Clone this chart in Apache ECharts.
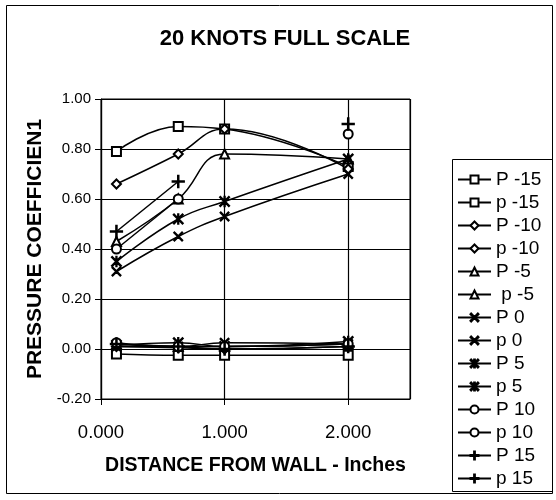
<!DOCTYPE html>
<html>
<head>
<meta charset="utf-8">
<title>20 KNOTS FULL SCALE</title>
<script src="https://cdn.jsdelivr.net/npm/echarts@6.0.0/dist/echarts.min.js"></script>
<style>
    html, body {margin: 0; padding: 0; background: #fff;}
    #main {width: 556px; height: 500px;}
</style>
</head>
<body>
<div id="main"></div>
<script>
// distance from wall (inches) where the taps are
const xDist = [0.125, 0.625, 1.0, 2.0];

const yTicks = [-0.2, 0, 0.2, 0.4, 0.6, 0.8, 1.0];
const xTicks = [0, 1, 2];

const names = ['P -15', 'p -15', 'P -10', 'p -10', 'P -5', ' p -5', 'P 0',
    'p 0', 'P 5', 'p 5', 'P 10', 'p 10', 'P 15', 'p 15'];

const P_m15 = [0.79, 0.89, 0.88, 0.73];
const p_m15 = [-0.02, -0.025, -0.025, -0.025];
const P_m10 = [0.66, 0.78, 0.88, 0.72];
const p_m10 = [0.01, 0.005, 0.0, 0.01];
const P_m5 = [0.43, 0.60, 0.78, 0.76];
const p_m5 = [0.02, 0.01, 0.01, 0.02];
const P_0 = [0.31, 0.45, 0.53, 0.70];
const p_0 = [0.01, 0.01, 0.025, 0.02];
const P_5 = [0.35, 0.52, 0.59, 0.76];
const p_5 = [0.015, 0.025, 0.01, 0.03];
const P_10 = [0.40, 0.60, null, 0.86];
const p_10 = [0.025, 0.01, 0.01, 0.02];
const P_15 = [0.47, 0.67, null, 0.90];
const p_15 = [0.02, 0.01, 0.0, 0.01];

const values = [P_m15, p_m15, P_m10, p_m10, P_m5, p_m5, P_0,
    p_0, P_5, p_5, P_10, p_10, P_15, p_15];

// marker shapes, one per pair
const xMark = 'path://M1.6,0L10,8.4L18.4,0L20,1.6L11.6,10L20,18.4L18.4,20L10,11.6L1.6,20L0,18.4L8.4,10L0,1.6Z';
const starMark = 'path://M1.6,0L10,8.4L18.4,0L20,1.6L11.6,10L20,18.4L18.4,20L10,11.6L1.6,20L0,18.4L8.4,10L0,1.6Z M9,0H11V20H9Z';
const plusMark = 'path://M9,0H11V9H20V11H11V20H9V11H0V9H9Z';
const marks = ['emptyRect', 'emptyDiamond', 'emptyTriangle', xMark, starMark, 'emptyCircle', plusMark];
const markSize = [9, 9, 9, 9, 10, 9, 12];

const font = 'Arial, "Liberation Sans", sans-serif';

let myChart = echarts.init(document.getElementById('main'));

let series = names.map((name, i) => {
    let k = Math.floor(i / 2);
    return {
        name: name,
        type: 'line',
        smooth: 0.45,
        symbol: marks[k],
        symbolSize: markSize[k],
        showAllSymbol: true,
        lineStyle: {color: '#000', width: 1.5},
        itemStyle: {color: '#000', borderColor: '#000', borderWidth: 1.3},
        data: xDist.map((x, j) => [x, values[i][j]])
    };
});

let option = {
    backgroundColor: '#fff',
    animation: false,
    title: {
        text: '20 KNOTS FULL SCALE',
        left: 280,
        textAlign: 'center',
        top: 23,
        textStyle: {fontFamily: font, fontSize: 22, fontWeight: 'bold', color: '#000'}
    },
    legend: {
        orient: 'vertical',
        left: 452,
        top: 168,
        padding: [2, 5, 2, 5],
        itemWidth: 33,
        itemHeight: 10,
        itemGap: 4,
        textStyle: {fontFamily: font, fontSize: 19, color: '#000'},
        data: names
    },
    grid: {
        left: 101, right: 146, top: 99, bottom: 101,
        show: true, borderColor: '#000', borderWidth: 1
    },
    xAxis: {
        type: 'value',
        min: 0,
        max: 2.5,
        interval: 1,
        name: 'DISTANCE FROM WALL - Inches',
        nameLocation: 'middle',
        nameGap: 57,
        nameTextStyle: {fontFamily: font, fontSize: 19.5, fontWeight: 'bold', color: '#000'},
        axisLine: {onZero: false, lineStyle: {color: '#000', width: 1.2}},
        axisTick: {show: true, length: 6, lineStyle: {color: '#000'}},
        axisLabel: {
            margin: 24, fontFamily: font, fontSize: 18.5, color: '#000', showMaxLabel: false,
            formatter: v => xTicks.includes(v) ? v.toFixed(3) : ''
        },
        splitLine: {show: true, lineStyle: {color: '#000', width: 1.2}}
    },
    yAxis: {
        type: 'value',
        min: -0.2,
        max: 1.0,
        interval: 0.2,
        name: 'PRESSURE COEFFICIEN1',
        nameLocation: 'middle',
        nameRotate: 90,
        nameGap: 54,
        nameTextStyle: {fontFamily: font, fontSize: 21, fontWeight: 'bold', color: '#000'},
        axisLine: {show: true, lineStyle: {color: '#000', width: 1.2}},
        axisTick: {show: true, length: 6, lineStyle: {color: '#000'}},
        axisLabel: {
            margin: 10, fontFamily: font, fontSize: 15, color: '#000',
            formatter: v => v.toFixed(2)
        },
        splitLine: {show: true, lineStyle: {color: '#000', width: 1.2}}
    },
    graphic: [
        {type: 'rect', shape: {x: 6.5, y: 5.5, width: 546, height: 488},
            style: {fill: 'none', stroke: '#000', lineWidth: 1}, silent: true, z: -1},
        {type: 'rect', shape: {x: 452.5, y: 159.5, width: 100, height: 332},
            style: {fill: 'none', stroke: '#000', lineWidth: 1}, silent: true, z: -1}
    ],
    series: series
};

myChart.setOption(option);
</script>
</body>
</html>
